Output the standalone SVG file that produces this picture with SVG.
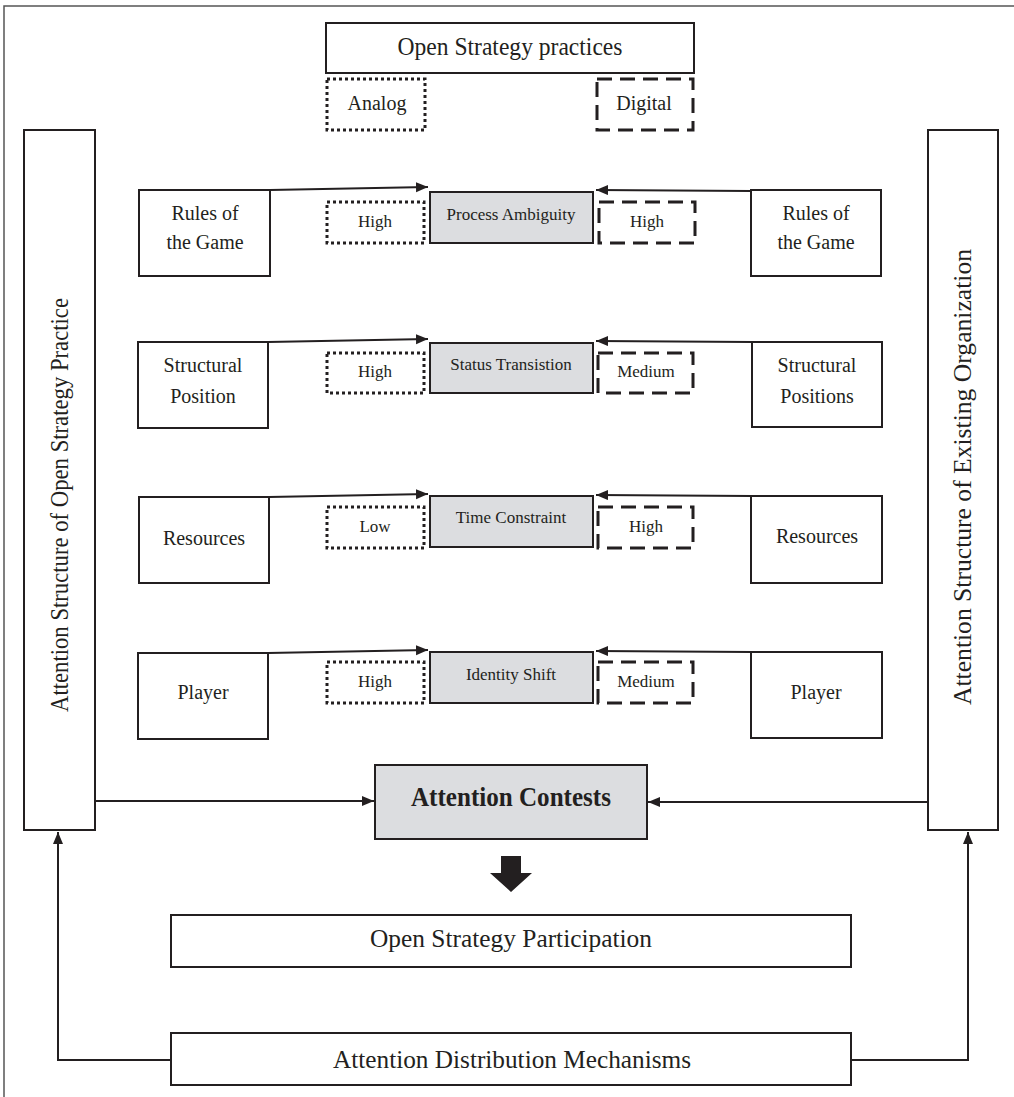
<svg xmlns="http://www.w3.org/2000/svg" width="1014" height="1097" viewBox="0 0 1014 1097">
<style>
.box{fill:#fff;stroke:#231f20;stroke-width:2}
.gray{fill:#dcdde0;stroke:#231f20;stroke-width:2}
.dot{fill:none;stroke:#231f20;stroke-width:3;stroke-dasharray:3 3}
.dash{fill:none;stroke:#231f20;stroke-width:3;stroke-dasharray:15 8}
.t{font-family:"Liberation Serif","Times New Roman",serif;fill:#231f20;text-anchor:middle}
.m{font-size:20px}
.s{font-size:17px}
.b{font-size:26px}
.v{font-size:25px}
.conn{stroke:#231f20;stroke-width:2;fill:none}
.frame{stroke:#555;stroke-width:1.5;fill:none}
</style>
<defs>
<marker id="ah" markerUnits="userSpaceOnUse" markerWidth="13" markerHeight="11" refX="12" refY="5" orient="auto">
<path d="M0,0 L12,5 L0,10 z" fill="#231f20"/>
</marker>
</defs>
<rect width="1014" height="1097" fill="#fff"/>
<path class="frame" d="M4,1097 V6 H1014"/>

<g id="open-strategy-practices">
<rect class="box" x="326" y="23" width="368" height="50"/>
<text class="t b" x="510" y="55" textLength="225" lengthAdjust="spacingAndGlyphs">Open Strategy practices</text>
</g>
<g id="analog">
<rect class="dot" x="327" y="79" width="98" height="51"/>
<text class="t m" x="377" y="110">Analog</text>
</g>
<g id="digital">
<rect class="dash" x="597" y="79" width="96" height="51"/>
<text class="t m" x="644" y="110">Digital</text>
</g>

<g id="left-structure">
<rect class="box" x="24" y="130" width="71" height="700"/>
<text class="t v" transform="translate(68,505) rotate(-90)" textLength="414" lengthAdjust="spacingAndGlyphs">Attention Structure of Open Strategy Practice</text>
</g>
<g id="right-structure">
<rect class="box" x="928" y="130" width="70" height="700"/>
<text class="t v" transform="translate(971,477) rotate(-90)" textLength="456" lengthAdjust="spacingAndGlyphs">Attention Structure of Existing Organization</text>
</g>

<!-- Row 1 -->
<g id="l-rules">
<rect class="box" x="139" y="190" width="131" height="86"/>
<text class="t m" x="205" y="220">Rules of</text>
<text class="t m" x="205" y="249">the Game</text>
</g>
<g id="a-high-1"><rect class="dot" x="327" y="202" width="97" height="41"/><text class="t s" x="375" y="227">High</text></g>
<g id="process-ambiguity"><rect class="gray" x="430" y="192" width="163" height="51"/><text class="t s" x="511" y="220">Process Ambiguity</text></g>
<g id="d-high-1"><rect class="dash" x="599" y="202" width="96" height="41"/><text class="t s" x="647" y="227">High</text></g>
<g id="r-rules">
<rect class="box" x="751" y="190" width="130" height="86"/>
<text class="t m" x="816" y="220">Rules of</text>
<text class="t m" x="816" y="249">the Game</text>
</g>

<!-- Row 2 -->
<g id="l-structural">
<rect class="box" x="138" y="342" width="130" height="86"/>
<text class="t m" x="203" y="372">Structural</text>
<text class="t m" x="203" y="403">Position</text>
</g>
<g id="a-high-2"><rect class="dot" x="327" y="353" width="97" height="40"/><text class="t s" x="375" y="377">High</text></g>
<g id="status-transition"><rect class="gray" x="430" y="343" width="163" height="50"/><text class="t s" x="511" y="370">Status Transistion</text></g>
<g id="d-medium-2"><rect class="dash" x="598" y="353" width="95" height="40"/><text class="t s" x="646" y="377">Medium</text></g>
<g id="r-structural">
<rect class="box" x="752" y="342" width="130" height="85"/>
<text class="t m" x="817" y="372">Structural</text>
<text class="t m" x="817" y="403">Positions</text>
</g>

<!-- Row 3 -->
<g id="l-resources"><rect class="box" x="139" y="497" width="130" height="86"/><text class="t m" x="204" y="545">Resources</text></g>
<g id="a-low-3"><rect class="dot" x="327" y="507" width="97" height="41"/><text class="t s" x="375" y="532">Low</text></g>
<g id="time-constraint"><rect class="gray" x="430" y="496" width="163" height="51"/><text class="t s" x="511" y="523">Time Constraint</text></g>
<g id="d-high-3"><rect class="dash" x="598" y="507" width="95" height="41"/><text class="t s" x="646" y="532">High</text></g>
<g id="r-resources"><rect class="box" x="751" y="496" width="131" height="87"/><text class="t m" x="817" y="543">Resources</text></g>

<!-- Row 4 -->
<g id="l-player"><rect class="box" x="138" y="653" width="130" height="86"/><text class="t m" x="203" y="699">Player</text></g>
<g id="a-high-4"><rect class="dot" x="327" y="662" width="97" height="41"/><text class="t s" x="375" y="687">High</text></g>
<g id="identity-shift"><rect class="gray" x="430" y="652" width="163" height="51"/><text class="t s" x="511" y="680">Identity Shift</text></g>
<g id="d-medium-4"><rect class="dash" x="598" y="662" width="95" height="41"/><text class="t s" x="646" y="687">Medium</text></g>
<g id="r-player"><rect class="box" x="751" y="652" width="131" height="86"/><text class="t m" x="816" y="699">Player</text></g>

<g id="attention-contests">
<rect class="gray" x="375" y="765" width="272" height="74"/>
<text class="t" style="font-size:28px;font-weight:bold" x="511" y="806" textLength="200" lengthAdjust="spacingAndGlyphs">Attention Contests</text>
</g>
<g id="participation">
<rect class="box" x="171" y="915" width="680" height="52"/>
<text class="t b" x="511" y="947" textLength="282" lengthAdjust="spacingAndGlyphs">Open Strategy Participation</text>
</g>
<g id="distribution">
<rect class="box" x="171" y="1033" width="680" height="52"/>
<text class="t b" x="512" y="1068" textLength="358" lengthAdjust="spacingAndGlyphs">Attention Distribution Mechanisms</text>
</g>

<g id="connectors">
<line class="conn" x1="270" y1="190" x2="428" y2="187" marker-end="url(#ah)"/>
<line class="conn" x1="751" y1="191" x2="596" y2="190" marker-end="url(#ah)"/>
<line class="conn" x1="268" y1="342" x2="428" y2="339" marker-end="url(#ah)"/>
<line class="conn" x1="752" y1="342" x2="596" y2="341" marker-end="url(#ah)"/>
<line class="conn" x1="269" y1="497" x2="428" y2="494" marker-end="url(#ah)"/>
<line class="conn" x1="751" y1="496" x2="596" y2="495" marker-end="url(#ah)"/>
<line class="conn" x1="268" y1="653" x2="428" y2="650" marker-end="url(#ah)"/>
<line class="conn" x1="751" y1="652" x2="596" y2="651" marker-end="url(#ah)"/>
<line class="conn" x1="95" y1="801" x2="374" y2="801" marker-end="url(#ah)"/>
<line class="conn" x1="928" y1="802" x2="648" y2="802" marker-end="url(#ah)"/>
<polygon points="501,856 521,856 521,873 532,873 511,892 490,873 501,873" fill="#231f20"/>
<path class="conn" d="M171,1060 H58 V832" marker-end="url(#ah)"/>
<path class="conn" d="M851,1060 H968 V832" marker-end="url(#ah)"/>
</g>
</svg>
